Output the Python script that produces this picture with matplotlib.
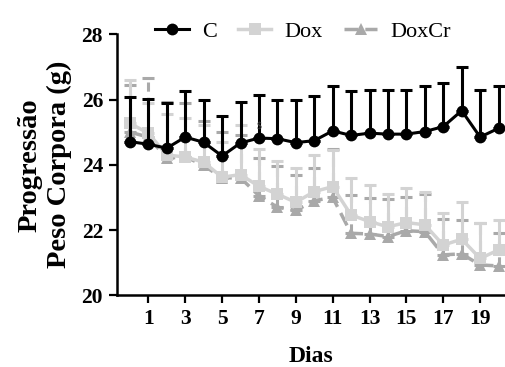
import matplotlib
matplotlib.use("Agg")
import matplotlib.pyplot as plt
import numpy as np

plt.rcParams['font.family'] = ['Liberation Serif', 'DejaVu Serif']

days = list(range(0, 21))
xtick_vals = [1, 3, 5, 7, 9, 11, 13, 15, 17, 19]
ytick_vals = [20, 22, 24, 26, 28]

c_mean = [24.71, 24.63, 24.51, 24.85, 24.69, 24.27, 24.67, 24.82, 24.80, 24.68, 24.74,
          25.04, 24.90, 24.97, 24.94, 24.94, 25.02, 25.17, 25.66, 24.85, 25.12]
c_top = [26.09, 26.02, 25.89, 26.27, 25.99, 25.50, 25.93, 26.14, 25.99, 25.99, 26.11,
         26.42, 26.27, 26.30, 26.30, 26.28, 26.42, 26.50, 26.99, 26.28, 26.43]

dox_mean = [25.27, 24.97, 24.30, 24.24, 24.08, 23.62, 23.70, 23.34, 23.10, 22.85, 23.18,
            23.33, 22.46, 22.26, 22.10, 22.23, 22.16, 21.54, 21.72, 21.13, 21.39]
dox_top = [26.60, 25.90, 25.56, 25.43, 25.22, 24.71, 25.23, 24.48, 24.12, 23.90, 24.30,
           24.45, 23.59, 23.38, 23.11, 23.28, 23.16, 22.53, 22.85, 22.23, 22.31]

doxcr_mean = [25.00, 24.85, 24.20, 24.25, 23.98, 23.60, 23.60, 23.05, 22.70, 22.60, 22.90,
              23.00, 21.90, 21.88, 21.80, 21.98, 21.95, 21.24, 21.27, 20.93, 20.90]
doxcr_top = [26.45, 26.65, 25.92, 25.89, 25.33, 25.01, 24.90, 24.20, 23.97, 23.70, 23.90,
             24.48, 23.08, 22.97, 22.95, 23.00, 23.11, 22.33, 22.31, 22.21, 21.92]

labels = ['C', 'Dox', 'DoxCr']

fig = plt.figure(figsize=(5.05, 3.67), dpi=100)
ax = fig.add_axes([0.2317, 0.1954, 0.7683, 0.7111])

def up_err(mean, top):
    m = np.array(mean); t = np.array(top)
    return [np.zeros_like(m), t - m]

col_c = '#000000'
col_dox = '#d3d3d3'
col_doxcr = '#a9a9a9'

# DoxCr
eb3 = ax.errorbar(days, doxcr_mean, yerr=up_err(doxcr_mean, doxcr_top), fmt='none',
                  ecolor=col_doxcr, elinewidth=2.2, capsize=4.3, capthick=2.2, zorder=2)
eb3[2][0].set_linestyle((0, (3, 2)))
ax.plot(days, doxcr_mean, color=col_doxcr, lw=2.5, ls=(0, (4, 2)), marker='^',
        markersize=8.5, markeredgewidth=0, zorder=3, label=labels[2])

# Dox
ax.errorbar(days, dox_mean, yerr=up_err(dox_mean, dox_top), fmt='none',
            ecolor=col_dox, elinewidth=2.2, capsize=4.3, capthick=2.2, zorder=4)
ax.plot(days, dox_mean, color=col_dox, lw=2.5, marker='s', markersize=8.5,
        markeredgewidth=0, zorder=5, label=labels[1])

# C
ax.errorbar(days, c_mean, yerr=up_err(c_mean, c_top), fmt='none',
            ecolor=col_c, elinewidth=2.2, capsize=4.3, capthick=2.2, zorder=6)
ax.plot(days, c_mean, color=col_c, lw=2.2, marker='o', markersize=8.5,
        markeredgewidth=0, zorder=7, label=labels[0])

ax.text(7, 25.2, r'\$', fontsize=7, color='#444444', ha='center', va='center', zorder=8)

ax.set_xlim(-0.7, 20.35)
ax.set_ylim(20, 28)
ax.set_xticks(xtick_vals)
ax.set_yticks(ytick_vals)
for s in ['top', 'right']:
    ax.spines[s].set_visible(False)
for s in ['left', 'bottom']:
    ax.spines[s].set_linewidth(1.8)
ax.tick_params(direction='out', length=6, width=1.6, labelsize=15.5, pad=4)
for lab in ax.get_xticklabels() + ax.get_yticklabels():
    lab.set_fontweight('bold')

ax.set_xlabel('Dias', fontsize=17, fontweight='bold', labelpad=12)
ax.set_ylabel('Progressão\nPeso Corpora (g)', fontsize=20.5, fontweight='bold', labelpad=7,
              linespacing=1.2)

handles, labs = ax.get_legend_handles_labels()
order = [labs.index(l) for l in labels]
leg = ax.legend([handles[i] for i in order], [labs[i] for i in order], ncol=3,
                loc='center', bbox_to_anchor=(0.48, 1.01),
                frameon=False, fontsize=16, handlelength=1.5, columnspacing=0.95,
                handletextpad=0.6, borderaxespad=0)

fig.savefig('out.png', dpi=100)
